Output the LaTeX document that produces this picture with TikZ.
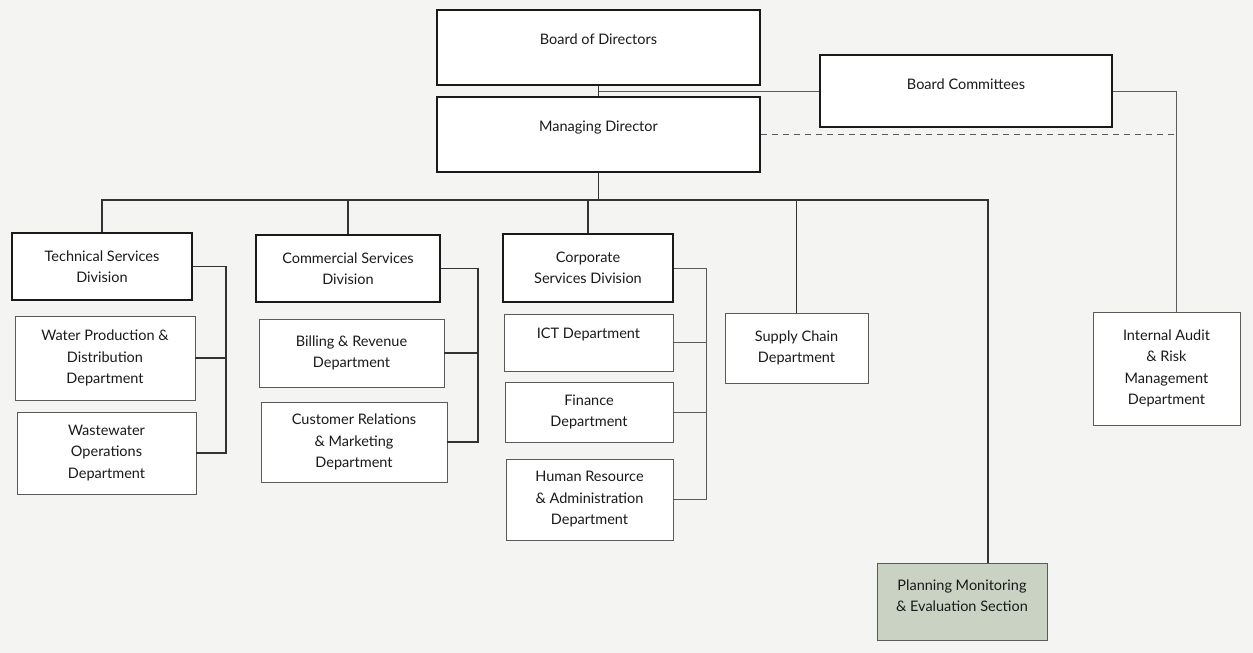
\documentclass[tikz,border=0pt]{standalone}
\usepackage{fontspec}
\setmainfont{Lato}
\usetikzlibrary{calc}
\definecolor{inkc}{HTML}{1A1A1A}
\definecolor{thinc}{HTML}{5A5A5A}
\definecolor{connc}{HTML}{333333}
\definecolor{pmefill}{HTML}{C9D2C3}
\definecolor{paper}{HTML}{F4F4F2}
\tikzset{
  base/.style={rectangle, align=center, font=\fontsize{14.5}{21.5}\selectfont, text=inkc, inner sep=2pt},
  thickbox/.style={base, draw=inkc, line width=2.4pt, fill=white},
  thinbox/.style={base, draw=thinc, line width=0.9pt, fill=white},
  conn/.style={draw=connc, line width=1.2pt},
  thinconn/.style={draw=thinc, line width=0.9pt},
  dashconn/.style={draw=thinc, line width=1.1pt, dash pattern=on 6pt off 5pt},
}
\begin{document}
\begin{tikzpicture}[x=1pt,y=-1pt]
\path[fill=paper] (0,0) rectangle (1253,653);
\useasboundingbox (0,0) rectangle (1253,653);
% top level
\node[thickbox, minimum width=323, minimum height=75, text depth=16pt] (bod) at (598.5,47.5) {Board of Directors};
\node[thickbox, minimum width=323, minimum height=75, text depth=16pt] (md) at (598.5,134.5) {Managing Director};
\node[thickbox, minimum width=292, minimum height=72, text depth=14pt] (bc) at (966,91) {Board Committees};
% divisions
\node[thickbox, minimum width=180, minimum height=67] (tsd) at (102,266.5) {Technical Services\\Division};
\node[thinbox, minimum width=180, minimum height=84] (wpd) at (105,358) {Water Production \&\\Distribution\\Department};
\node[thinbox, minimum width=179, minimum height=82] (wod) at (106.5,453) {Wastewater\\Operations\\Department};
\node[thickbox, minimum width=184, minimum height=67] (csd) at (348,268.5) {Commercial Services\\Division};
\node[thinbox, minimum width=185, minimum height=68] (brd) at (351.5,353) {Billing \& Revenue\\Department};
\node[thinbox, minimum width=186, minimum height=80] (crm) at (354,442) {Customer Relations\\\& Marketing\\Department};
\node[thickbox, minimum width=170, minimum height=68] (cor) at (588,268) {Corporate\\Services Division};
\node[thinbox, minimum width=169, minimum height=57, text depth=18pt] (ict) at (588.5,342.5) {ICT Department};
\node[thinbox, minimum width=168, minimum height=60] (fin) at (589,412) {Finance\\Department};
\node[thinbox, minimum width=167, minimum height=81] (hr) at (589.5,499.5) {Human Resource\\\& Administration\\Department};
\node[thinbox, minimum width=143, minimum height=70] (sc) at (796.5,348) {Supply Chain\\Department};
\node[thinbox, minimum width=170, minimum height=77, fill=pmefill, text depth=12pt] (pme) at (962,601.5) {Planning Monitoring\\\& Evaluation Section};
\node[thinbox, minimum width=147, minimum height=113] (ia) at (1166.5,368.5) {Internal Audit\\\& Risk\\Management\\Department};
% helper coordinates
\coordinate (bus) at (0,200);
\coordinate (tx) at (226,0);
\coordinate (cx) at (478,0);
\coordinate (rx) at (706,0);
\coordinate (px) at (988,0);
\coordinate (iax) at (1176,0);
\coordinate (mid) at ($(bod.south)!0.5!(md.north)$);
% connectors top
\draw[conn] (bod.south) -- (md.north);
\draw[thinconn] (mid) -- (mid -| bc.west);
\draw[thinconn] (bc.east) -- (bc.east -| iax) -- (ia.north -| iax);
\draw[dashconn] (md.east) -- (md.east -| iax);
% bus
\draw[conn] (md.south) -- (md.south |- bus);
\draw[conn] (tsd.north) |- (bus -| px) -- (pme.north -| px);
\draw[conn] (csd.north) -- (csd.north |- bus);
\draw[conn] (cor.north) -- (cor.north |- bus);
\draw[conn] (sc.north) -- (sc.north |- bus);
% brackets
\draw[conn] (tsd.east) -- (tsd.east -| tx) -- (wod.east -| tx) -- (wod.east);
\draw[conn] (wpd.east) -- (wpd.east -| tx);
\draw[conn] (csd.east) -- (csd.east -| cx) -- (crm.east -| cx) -- (crm.east);
\draw[conn] (brd.east) -- (brd.east -| cx);
\draw[thinconn] (cor.east) -- (cor.east -| rx) -- (hr.east -| rx) -- (hr.east);
\draw[thinconn] (ict.east) -- (ict.east -| rx);
\draw[thinconn] (fin.east) -- (fin.east -| rx);
\end{tikzpicture}
\end{document}
